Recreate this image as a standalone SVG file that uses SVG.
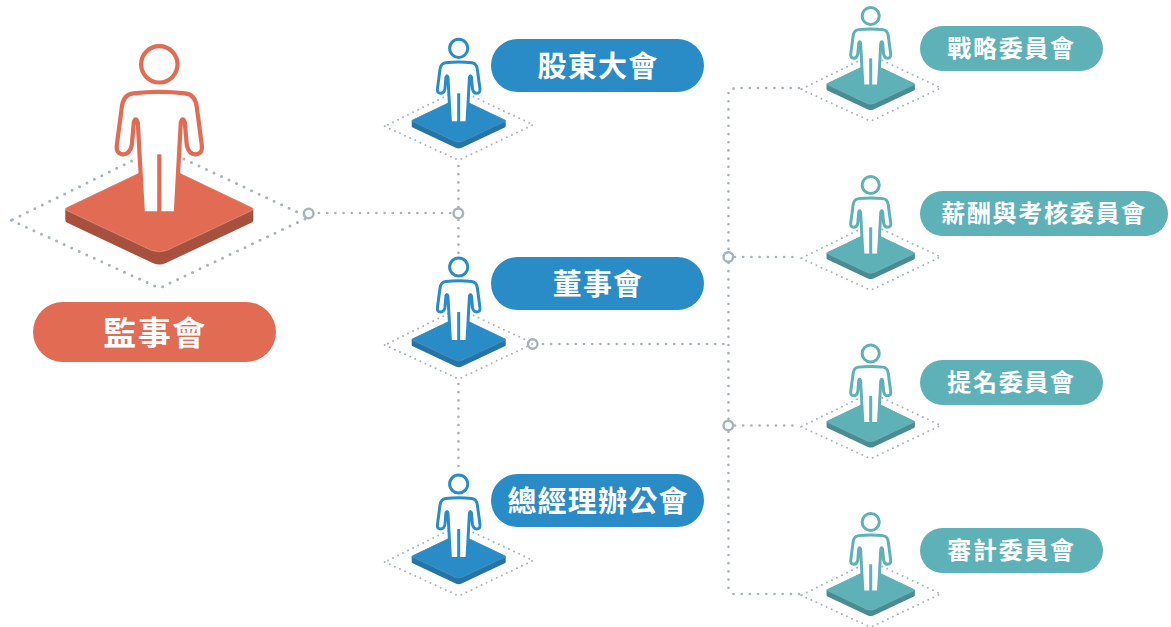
<svg xmlns="http://www.w3.org/2000/svg" width="1171" height="627" viewBox="0 0 1171 627">
<style>
.c{fill:none;stroke:#a7b4bd;stroke-width:2.7;stroke-linecap:round;stroke-dasharray:0 8.2}
.r{fill:#fff;stroke:#a7b4bd;stroke-width:2.4}
.dd{fill:none;stroke:#a7b4bd;stroke-linecap:round;vector-effect:non-scaling-stroke}
.big{stroke-width:3;stroke-dasharray:0 8.300}
.mid{stroke-width:2;stroke-dasharray:0 5.600}
.p{fill:#fff;stroke:currentColor;stroke-linejoin:round;vector-effect:non-scaling-stroke}
.l{fill:none;stroke:currentColor;vector-effect:non-scaling-stroke}
.s{fill:#fff;font-family:"Noto Sans CJK TC","Noto Sans CJK SC",sans-serif;font-weight:700;text-anchor:middle}
.t1{font-size:33px;letter-spacing:1.500px}
.t2{font-size:29px;letter-spacing:1.200px}
.t3{font-size:24px;letter-spacing:1.700px}
.red{fill:#e26b53;color:#e26b53}
.blue{fill:#298cc7;color:#298cc7}
.teal{fill:#5eb1b7;color:#5eb1b7}
</style>
<defs>
<path id="dia" class="dd" d="M-148 156L-3 222.500Q0 224 3 222.500L149 153L0 83Z"/>
<g id="person">
<path d="M-94 156V144.500Q-94 144-92 143L-4 101Q0 99 4 101L92 143Q94 144 94 144.500V156Q94 157.500 92 158.500L6 199Q0 201.500-6 199L-92 158.500Q-94 157.500-94 156Z" style="fill:var(--side)"/>
<path d="M-92 143L-4 101Q0 99 4 101L92 143Q94 144 94 144.500Q94 145.500 92 146.500L8 186Q0 189-8 186L-92 146.500Q-94 145.500-94 144.500Q-94 144-92 143Z" fill="currentColor" stroke="#fff" stroke-opacity=".35" stroke-width=".7"/>
<circle class="l" cx="0" cy="0" r="18.200"/>
<path class="p" d="M-16.500 149L-21.500 58Q-23.500 52-25.500 58L-27.500 81Q-29.500 90-36 90Q-43.500 90-42.500 81L-37.500 43Q-36 30-26 29Q0 26 26 29Q36 30 37.500 43L42.500 81Q43.500 90 36 90Q29.500 90 27.500 81L25.500 58Q23.500 52 21.500 58L16.500 149Z"/>
<path class="l" d="M0 90V149"/>
</g>
</defs>

<g id="connectors">
<path class="c" d="M319 213H452"/>
<path class="c" d="M458.500 166V207M458.500 220V258"/>
<path class="c" d="M458.500 384V474"/>
<path class="c" d="M543 344H728"/>
<path class="c" d="M799 88H736L728.500 90V251M728.500 263V419M728.500 432V588L733 594H800"/>
<path class="c" d="M735 257H800M735 425.500H800"/>
<circle class="r" cx="308.700" cy="213.500" r="4.800"/>
<circle class="r" cx="458.300" cy="213.300" r="4.800"/>
<circle class="r" cx="532.700" cy="344" r="4.800"/>
<circle class="r" cx="728.300" cy="257" r="4.800"/>
<circle class="r" cx="728.300" cy="425.500" r="4.800"/>
</g>

<g id="node-supervisors">
<g transform="translate(159.300 64.300)"><use href="#dia" class="big"/><use href="#person" class="red" stroke-width="4.200" style="--side:#a8503e"/></g>
<rect x="33" y="302" width="243" height="60" rx="30" class="red"/>
<text x="155" y="345" class="s t1">監事會</text>
</g>

<g id="node-shareholders">
<g transform="translate(458.700 48.300) scale(.5)"><use href="#dia" class="mid"/><use href="#person" class="blue" stroke-width="3" style="--side:#2673a6"/></g>
<rect x="491" y="39" width="213" height="53" rx="26.500" class="blue"/>
<text x="598" y="77" class="s t2">股東大會</text>
</g>
<g id="node-board">
<g transform="translate(458.700 267) scale(.5)"><use href="#dia" class="mid"/><use href="#person" class="blue" stroke-width="3" style="--side:#2673a6"/></g>
<rect x="491" y="257" width="213" height="53" rx="26.500" class="blue"/>
<text x="598" y="295" class="s t2">董事會</text>
</g>
<g id="node-gm">
<g transform="translate(458.700 484) scale(.5)"><use href="#dia" class="mid"/><use href="#person" class="blue" stroke-width="3" style="--side:#2673a6"/></g>
<rect x="491" y="474" width="213" height="53" rx="26.500" class="blue"/>
<text x="598" y="512" class="s t2">總經理辦公會</text>
</g>

<g id="node-strategy">
<g transform="translate(870.700 16) scale(.47)"><use href="#dia" class="mid"/><use href="#person" class="teal" stroke-width="3" style="--side:#4a8c92"/></g>
<rect x="920" y="26" width="183" height="45" rx="22.500" class="teal"/>
<text x="1011.500" y="57" class="s t3">戰略委員會</text>
</g>
<g id="node-remuneration">
<g transform="translate(870.700 185) scale(.47)"><use href="#dia" class="mid"/><use href="#person" class="teal" stroke-width="3" style="--side:#4a8c92"/></g>
<rect x="920" y="191" width="248" height="45" rx="22.500" class="teal"/>
<text x="1044" y="222" class="s t3">薪酬與考核委員會</text>
</g>
<g id="node-nomination">
<g transform="translate(870.700 353.500) scale(.47)"><use href="#dia" class="mid"/><use href="#person" class="teal" stroke-width="3" style="--side:#4a8c92"/></g>
<rect x="920" y="360" width="183" height="45" rx="22.500" class="teal"/>
<text x="1011.500" y="391" class="s t3">提名委員會</text>
</g>
<g id="node-audit">
<g transform="translate(870.700 522) scale(.47)"><use href="#dia" class="mid"/><use href="#person" class="teal" stroke-width="3" style="--side:#4a8c92"/></g>
<rect x="920" y="528" width="183" height="45" rx="22.500" class="teal"/>
<text x="1011.500" y="559" class="s t3">審計委員會</text>
</g>
</svg>
